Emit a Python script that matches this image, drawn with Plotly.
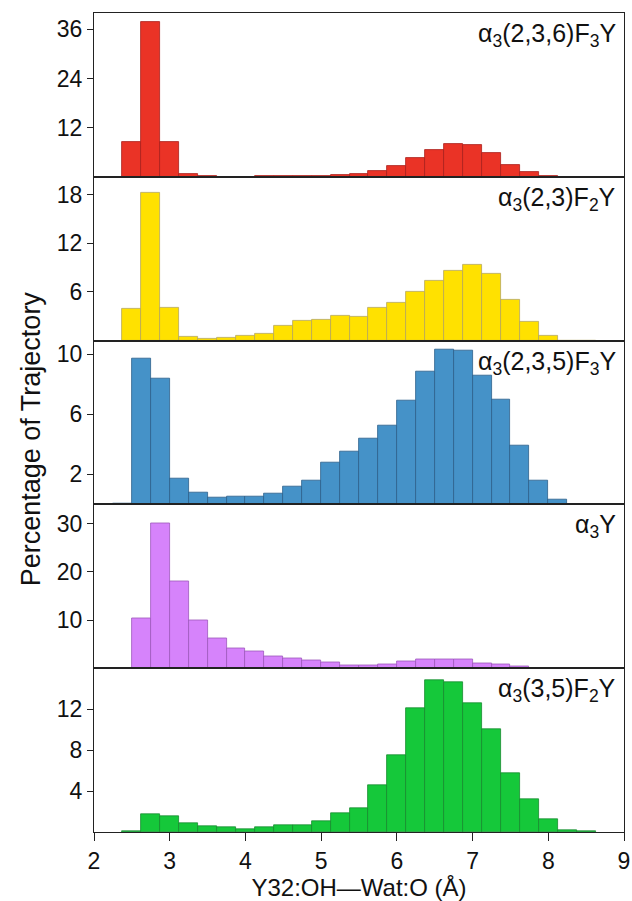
import plotly.graph_objects as go
from plotly.subplots import make_subplots

# ---- data ----
centers_a = [2.5 + 0.25 * i for i in range(25)]      # 2.5 .. 8.5
centers_b = [2.375 + 0.25 * i for i in range(25)]    # 2.375 .. 8.375

red_vals = [8.6, 37.8, 8.4, 0.8, 0.2, 0.05, 0.0, 0.1, 0.15, 0.15, 0.2, 0.4, 0.65,
            1.3, 2.7, 4.6, 6.6, 8.1, 7.8, 5.8, 2.9, 1.1, 0.2, 0.0, 0.0]
yellow_vals = [3.9, 18.2, 4.1, 0.5, 0.2, 0.4, 0.65, 0.9, 1.8, 2.5, 2.6, 3.1, 2.9,
               4.0, 4.7, 6.0, 7.4, 8.6, 9.4, 8.2, 5.0, 2.3, 0.65, 0.0, 0.0]
blue_vals = [0.05, 9.7, 8.4, 1.7, 0.78, 0.48, 0.52, 0.52, 0.7, 1.18, 1.58, 2.78, 3.5,
             4.36, 5.25, 6.9, 8.87, 10.3, 10.25, 8.6, 6.97, 3.9, 1.6, 0.33, 0.02]
purple_vals = [0.0, 10.3, 30.0, 18.1, 10.0, 6.1, 4.2, 3.45, 2.35, 2.1, 1.6, 1.17, 0.5,
               0.55, 0.83, 1.4, 1.8, 1.93, 1.86, 1.03, 0.7, 0.28, 0.0, 0.0, 0.0]
green_vals = [0.1, 1.78, 1.58, 0.9, 0.53, 0.43, 0.3, 0.5, 0.7, 0.63, 1.1, 1.8, 2.3,
              4.57, 7.5, 12.1, 14.8, 14.6, 12.6, 10.0, 5.7, 3.2, 1.25, 0.2, 0.03]

labels = ["α<sub>3</sub>(2,3,6)F<sub>3</sub>Y",
          "α<sub>3</sub>(2,3)F<sub>2</sub>Y",
          "α<sub>3</sub>(2,3,5)F<sub>3</sub>Y",
          "α<sub>3</sub>Y",
          "α<sub>3</sub>(3,5)F<sub>2</sub>Y"]
y_ticks = [[12, 24, 36], [6, 12, 18], [2, 6, 10], [10, 20, 30], [4, 8, 12]]
y_ranges = [[0, 40], [0, 20.2], [0, 10.9], [0, 34], [0, 16]]
x_ticks = [2, 3, 4, 5, 6, 7, 8, 9]

series = [
    (centers_a, red_vals, "#ea3326", "#a8201a"),
    (centers_a, yellow_vals, "#ffe100", "#b5a65a"),
    (centers_b, blue_vals, "#4592c8", "#2c5f8a"),
    (centers_b, purple_vals, "#d683fb", "#9d58bb"),
    (centers_a, green_vals, "#15c83a", "#178a2e"),
]

FONT = "Liberation Sans, Arial, Helvetica, sans-serif"

fig = make_subplots(rows=5, cols=1, shared_xaxes=True, vertical_spacing=0)

for i, (xs, ys, fill, edge) in enumerate(series):
    r = i + 1
    fig.add_trace(go.Bar(x=xs, y=ys, width=0.25, marker=dict(color=fill,
                         line=dict(color=edge, width=0.8)), showlegend=False),
                  row=r, col=1)
    fig.update_yaxes(range=y_ranges[i], tickvals=y_ticks[i], ticks="outside",
                     ticklen=6, tickwidth=1.2, tickcolor="#222",
                     showline=True, linecolor="#222", linewidth=1.2, mirror=True,
                     showgrid=False, zeroline=False,
                     tickfont=dict(size=23, color="#111", family=FONT),
                     row=r, col=1)
    fig.update_xaxes(range=[2, 9], showline=True, linecolor="#222", linewidth=1.2,
                     mirror=True, showgrid=False, zeroline=False,
                     tickvals=x_ticks,
                     ticks="outside" if r == 5 else "",
                     ticklen=8, tickwidth=1.2, tickcolor="#222",
                     showticklabels=(r == 5),
                     tickfont=dict(size=23, color="#111", family=FONT),
                     row=r, col=1)
    xr = "x domain" if r == 1 else f"x{r} domain"
    yr = "y domain" if r == 1 else f"y{r} domain"
    fig.add_annotation(text=labels[i], xref=xr, yref=yr, x=0.988, y=0.975,
                       xanchor="right", yanchor="top", showarrow=False,
                       font=dict(size=25, color="#111", family=FONT))

fig.update_xaxes(title=dict(text="Y32:OH\u2014Wat:O (Å)", standoff=2,
                            font=dict(size=24, color="#111", family=FONT)),
                 row=5, col=1)

fig.add_annotation(text="Percentage of Trajectory", xref="paper", yref="paper",
                   x=-0.12, y=0.48, textangle=-90, showarrow=False,
                   xanchor="center", yanchor="middle",
                   font=dict(size=27, color="#111", family=FONT))

fig.update_layout(width=632, height=901, bargap=0,
                  margin=dict(l=94, r=8, t=13, b=69, autoexpand=False),
                  plot_bgcolor="white", paper_bgcolor="white")

fig.write_html("out.html", config={"displayModeBar": False},
               post_script="document.body.style.margin='0';")
